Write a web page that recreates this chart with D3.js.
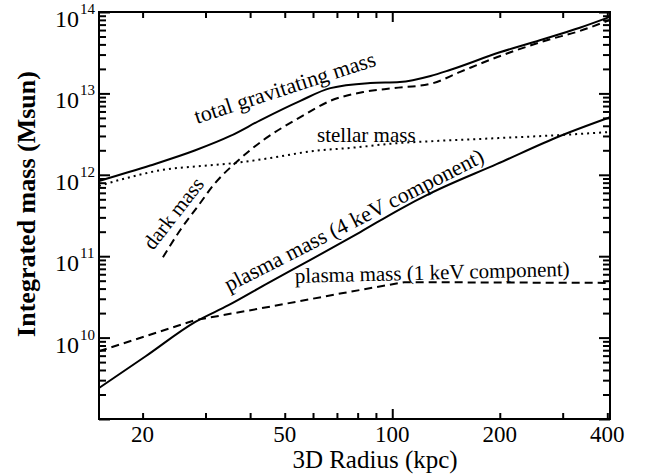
<!DOCTYPE html>
<html>
<head>
<meta charset="utf-8">
<script src="https://cdn.jsdelivr.net/npm/d3@7"></script>
<style>
  body { margin: 0; background: #fff; }
  text { font-family: "Liberation Serif", "Times New Roman", serif; fill: #000; }
</style>
</head>
<body>
<div id="chart"></div>
<script>
// radius (kpc) and integrated mass (Msun)
const totalR = [15.1, 21, 28.1, 35.2, 42.8, 55.3, 67.1, 86.8, 105, 128, 145, 200, 259, 335, 407];
const totalM = [8.4e11, 1.3e12, 2.0e12, 3.0e12, 4.7e12, 8.1e12, 1.16e13, 1.34e13, 1.38e13, 1.64e13, 1.94e13, 3.2e13, 4.5e13, 6.4e13, 8.7e13];

const darkR = [22.8, 25.5, 29.0, 31.6, 36.9, 43.6, 55.3, 67.1, 83, 100.6, 128, 155, 197, 271, 335, 407];
const darkM = [9.7e10, 2.1e11, 4.5e11, 7.5e11, 1.48e12, 2.68e12, 5.1e12, 8.1e12, 1.04e13, 1.16e13, 1.31e13, 1.84e13, 2.8e13, 4.5e13, 5.85e13, 8.0e13];

const stellarR = [15.1, 18.5, 22.75, 29, 36.4, 45.6, 60.1, 76.3, 105, 132, 200, 295, 407];
const stellarM = [7.3e11, 9.4e11, 1.15e12, 1.28e12, 1.4e12, 1.61e12, 1.96e12, 2.14e12, 2.46e12, 2.6e12, 2.83e12, 3.08e12, 3.36e12];

const plasma4R = [15.1, 20.4, 28.1, 34.8, 45, 59, 81.4, 105.3, 127.7, 196.6, 295, 407];
const plasma4M = [2.4e9, 5.9e9, 1.56e10, 2.5e10, 4.7e10, 9.0e10, 1.98e11, 3.8e11, 5.9e11, 1.36e12, 3.0e12, 5.1e12];

const plasma1R = [15.1, 28.1, 45, 72.9, 108, 200, 407];
const plasma1M = [6.8e9, 1.64e10, 2.38e10, 3.53e10, 4.8e10, 4.75e10, 4.7e10];

const xTickLabels = [20, 50, 100, 200, 400];
const xMinorTicks = [20, 30, 40, 50, 60, 70, 80, 90, 200, 300, 400];
const xMajorTicks = [100];
const yDecades = [9, 10, 11, 12, 13, 14];
const yLabelExps = [10, 11, 12, 13, 14];

const width = 649;
const height = 475;
const margin = { top: 12, right: 39, bottom: 56, left: 99 };
const w = width - margin.left - margin.right;
const h = height - margin.top - margin.bottom;

const svg = d3.select("#chart")
    .append("svg")
    .attr("width", width)
    .attr("height", height);

const g = svg.append("g")
    .attr("transform", `translate(${margin.left},${margin.top})`);

// Scales
const x = d3.scaleLog().domain([15.1, 407]).range([0, w]);
const y = d3.scaleLog().domain([1e9, 1e14]).range([h, 0]);

// minor y ticks 2..9 per decade
const yMinor = [];
yDecades.slice(0, -1).forEach(e => {
    for (let k = 2; k <= 9; k++) yMinor.push(k * Math.pow(10, e));
});
const yMajor = yDecades.map(e => Math.pow(10, e));

// Frame
g.append("rect")
    .attr("width", w)
    .attr("height", h)
    .attr("fill", "none")
    .attr("stroke", "#000")
    .attr("stroke-width", 2);

// ticks point inward on all four sides
function tickMarks(axis, values, len) {
    return g.append("g")
        .call(axis.tickValues(values).tickSize(-len).tickFormat(""))
        .call(a => a.select(".domain").remove())
        .call(a => a.selectAll(".tick line").attr("stroke", "#000").attr("stroke-width", 2));
}

tickMarks(d3.axisBottom(x), xMinorTicks, 6).attr("transform", `translate(0,${h})`);
tickMarks(d3.axisBottom(x), xMajorTicks, 10).attr("transform", `translate(0,${h})`);
tickMarks(d3.axisTop(x), xMinorTicks, 6);
tickMarks(d3.axisTop(x), xMajorTicks, 10);
tickMarks(d3.axisLeft(y), yMinor, 7);
tickMarks(d3.axisLeft(y), yMajor, 11);
tickMarks(d3.axisRight(y), yMinor, 7).attr("transform", `translate(${w},0)`);
tickMarks(d3.axisRight(y), yMajor, 11).attr("transform", `translate(${w},0)`);

// tick labels
g.selectAll(".xlab")
    .data(xTickLabels)
    .enter()
    .append("text")
    .attr("x", d => x(d))
    .attr("y", h + 23)
    .attr("text-anchor", "middle")
    .style("font-size", "23px")
    .text(d => d);

yLabelExps.forEach(e => {
    const yy = y(Math.pow(10, e));
    g.append("text")
        .attr("x", -20)
        .attr("y", yy + 15)
        .attr("text-anchor", "end")
        .style("font-size", "24px")
        .text("10");
    g.append("text")
        .attr("x", -19)
        .attr("y", yy + 2)
        .attr("text-anchor", "start")
        .style("font-size", "15px")
        .text(e);
});

// axis titles
svg.append("text")
    .attr("x", 375)
    .attr("y", 468)
    .attr("text-anchor", "middle")
    .style("font-size", "25px")
    .text("3D Radius (kpc)");

svg.append("text")
    .attr("transform", "translate(35,204) rotate(-90)")
    .attr("text-anchor", "middle")
    .style("font-size", "26px")
    .style("font-weight", "bold")
    .text("Integrated mass (Msun)");

// Curves
const zip = (rs, ms) => rs.map((r, i) => ({ r: r, m: ms[i] }));
const smooth = d3.line().x(d => x(d.r)).y(d => y(d.m)).curve(d3.curveMonotoneX);
const straight = d3.line().x(d => x(d.r)).y(d => y(d.m));

const series = [
    { data: zip(totalR, totalM), line: smooth, dash: null },
    { data: zip(darkR, darkM), line: smooth, dash: "8,5" },
    { data: zip(stellarR, stellarM), line: smooth, dash: "2,4" },
    { data: zip(plasma4R, plasma4M), line: smooth, dash: null },
    { data: zip(plasma1R, plasma1M), line: straight, dash: "8,5" },
];

series.forEach(s => {
    g.append("path")
        .datum(s.data)
        .attr("d", s.line)
        .attr("fill", "none")
        .attr("stroke", "#000")
        .attr("stroke-width", 2)
        .attr("stroke-dasharray", s.dash);
});

// Curve labels
const notes = [
    { text: "total gravitating mass", x: 197, y: 124, angle: -18, size: 22 },
    { text: "stellar mass", x: 317, y: 142, angle: 0, size: 21 },
    { text: "dark mass", x: 153, y: 251, angle: -52, size: 21 },
    { text: "plasma mass (4 keV component)", x: 229, y: 292, angle: -27, size: 22 },
    { text: "plasma mass (1 keV component)", x: 295, y: 283, angle: -1.5, size: 21 },
];

svg.selectAll(".note")
    .data(notes)
    .enter()
    .append("text")
    .attr("transform", d => `translate(${d.x},${d.y}) rotate(${d.angle})`)
    .style("font-size", d => d.size + "px")
    .text(d => d.text);
</script>
</body>
</html>
